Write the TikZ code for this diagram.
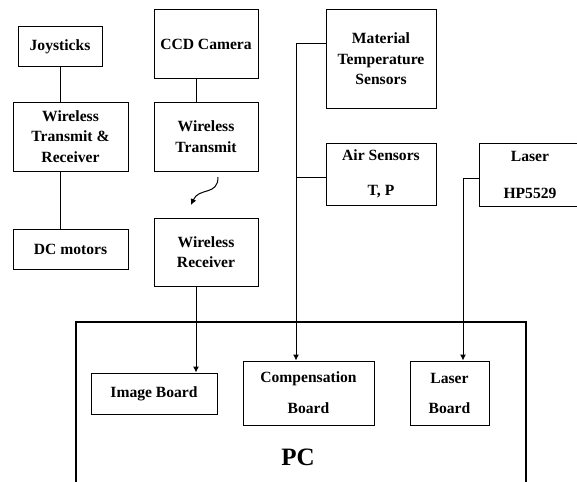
\documentclass[tikz,border=0pt]{standalone}
\usepackage{fontspec}
\setmainfont{Liberation Serif}
\usetikzlibrary{arrows.meta}

\begin{document}
\begin{tikzpicture}[x=0.5pt,y=-0.5pt,
  font=\fontsize{7.8}{10.2}\selectfont\bfseries,
  blok/.style={draw, line width=0.5pt, align=center, inner sep=0pt},
  pijl/.style={-{Latex[length=3pt,width=3pt]}, line width=0.5pt}]

\useasboundingbox (0,0) rectangle (577,481);
\clip (0,0) rectangle (577,481);

% robot side
\node[blok, minimum width=42pt, minimum height=20pt] (joy) at (60,47) {Joysticks};
\node[blok, minimum width=57.5pt, minimum height=34.5pt] (wtr) at (70.5,136.5) {Wireless\\Transmit \&\\Receiver};
\node[blok, minimum width=57.5pt, minimum height=20pt] (dcm) at (70.5,249) {DC motors};

% camera side
\node[blok, minimum width=52pt, minimum height=34.5pt] (ccd) at (206,44.5) {CCD Camera};
\node[blok, minimum width=52pt, minimum height=34.5pt] (wt) at (206,136.5) {Wireless\\Transmit};
\node[blok, minimum width=52pt, minimum height=34pt] (wr) at (206,252) {Wireless\\Receiver};

% sensors
\node[blok, minimum width=55pt, minimum height=49pt] (mts) at (381,59) {Material\\Temperature\\Sensors};
\node[blok, minimum width=55pt, minimum height=31pt] (air) at (381,174) {Air Sensors\\[7.3pt]T, P};
\node[blok, minimum width=51pt, minimum height=31.5pt] (las) at (530,174.5) {Laser\\[8.3pt]HP5529};

% PC
\draw[line width=1.1pt] (76,500) -- (76,322) -- (526,322) -- (526,500);
\node[font=\fontsize{12.5}{15}\selectfont\bfseries] (pc) at (298,457) {PC};
\node[blok, minimum width=63pt, minimum height=20.5pt] (img) at (154,393.5) {Image Board};
\node[blok, minimum width=65.5pt, minimum height=32pt] (comp) at (308.5,393) {Compensation\\[5.3pt]Board};
\node[blok, minimum width=39.5pt, minimum height=32pt] (lb) at (449.5,393) {Laser\\[4.8pt]Board};

\coordinate (vid) at (196,0);
\coordinate (bus) at (296,44);
\coordinate (lbus) at (463,178);

\draw[line width=0.5pt] (joy.south) -- (joy.south |- wtr.north);
\draw[line width=0.5pt] (wtr.south -| joy.south) -- (dcm.north -| joy.south);
\draw[line width=0.5pt] (ccd.south -| vid) -- (wt.north -| vid);

% wireless link
\coordinate (zend) at (218,177);
\coordinate (zont) at (191,205);
\draw[pijl] (zend) .. controls (218,196) and (199,187) .. (zont);

\draw[pijl] (wr.south -| vid) -- (img.north -| vid);
\draw[line width=0.5pt] (mts.west |- bus) -- (bus);
\draw[pijl] (bus) -- (bus |- comp.north);
\draw[line width=0.5pt] ([yshift=-1.5pt]air.west) -- ([yshift=-1.5pt]air.west -| bus);
\draw[pijl] (lbus -| las.west) -- (lbus) -- (lbus |- lb.north);

\end{tikzpicture}
\end{document}
